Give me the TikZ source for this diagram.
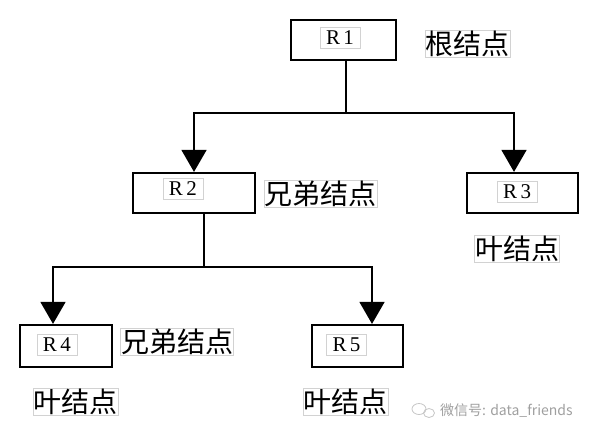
\documentclass[tikz,border=0pt]{standalone}
\usepackage{fontspec}
\newfontfamily\cjk{Noto Sans CJK SC}
\newfontfamily\rfont{Liberation Serif}
\usetikzlibrary{arrows.meta}
\begin{document}
\begin{tikzpicture}[x=1pt,y=-1pt,
  treebox/.style={draw, line width=2.2pt, inner sep=0pt},
  rlabel/.style={draw=gray!35, line width=0.6pt, minimum width=40pt, minimum height=21pt, inner sep=0pt, font=\rfont\fontsize{21}{21}\selectfont},
  cnlabel/.style={draw=gray!35, line width=0.6pt, inner sep=0.5pt, font=\cjk\fontsize{28}{28}\selectfont},
  link/.style={line width=1.6pt},
  arrowlink/.style={link, -{Triangle[width=25pt,length=22pt]}},
]
\useasboundingbox (0,0) rectangle (593,441);
% boxes
\node[treebox, minimum width=105pt, minimum height=40pt] (r1) at (343.5,40) {};
\node[treebox, minimum width=122pt, minimum height=40pt] (r2) at (194,193) {};
\node[treebox, minimum width=111pt, minimum height=40pt] (r3) at (522.5,193) {};
\node[treebox, minimum width=92pt, minimum height=42pt] (r4) at (66,346) {};
\node[treebox, minimum width=91pt, minimum height=42pt] (r5) at (357.5,346) {};
% inner labels
\node[rlabel] (l1) at (340,38) {R\kern3.5pt 1};
\node[rlabel] (l2) at (183,189) {R\kern3.5pt 2};
\node[rlabel] (l3) at (517,192) {R\kern3.5pt 3};
\node[rlabel] (l4) at (57,345) {R\kern3.5pt 4};
\node[rlabel] (l5) at (346.5,345) {R\kern3.5pt 5};
% chinese labels
\node[cnlabel] (c1) at (467.5,43.5) {根结点};
\node[cnlabel] (c2) at (320.5,193.5) {兄弟结点};
\node[cnlabel] (c3) at (517,249) {叶结点};
\node[cnlabel] (c4) at (177,341.5) {兄弟结点};
\node[cnlabel] (c5) at (75.5,402) {叶结点};
\node[cnlabel] (c6) at (345.5,402) {叶结点};
% connectors
\path ([xshift=2.5pt]r1.south) ++(0,52) coordinate (j1);
\draw[link] ([xshift=2.5pt]r1.south) -- (j1);
\draw[arrowlink] (j1) -| (r2.north);
\draw[arrowlink] (j1) -| ([xshift=-8.5pt]r3.north);
\path ([xshift=10pt]r2.south) ++(0,53) coordinate (j2);
\draw[link] ([xshift=10pt]r2.south) -- (j2);
\draw[arrowlink] (j2) -| ([xshift=-13pt]r4.north);
\draw[arrowlink] (j2) -| ([xshift=14.5pt]r5.north);
% watermark
\draw[gray!45, line width=0.8pt] (419,409) ellipse (7 and 5.5);
\draw[gray!45, line width=0.8pt] (429,413) ellipse (5.5 and 4.5);
\node[text=gray!75, font=\cjk\fontsize{14}{14}\selectfont, anchor=west, inner sep=0pt] (wm) at (440,411) {微信号: data\_friends};
\end{tikzpicture}
\end{document}
